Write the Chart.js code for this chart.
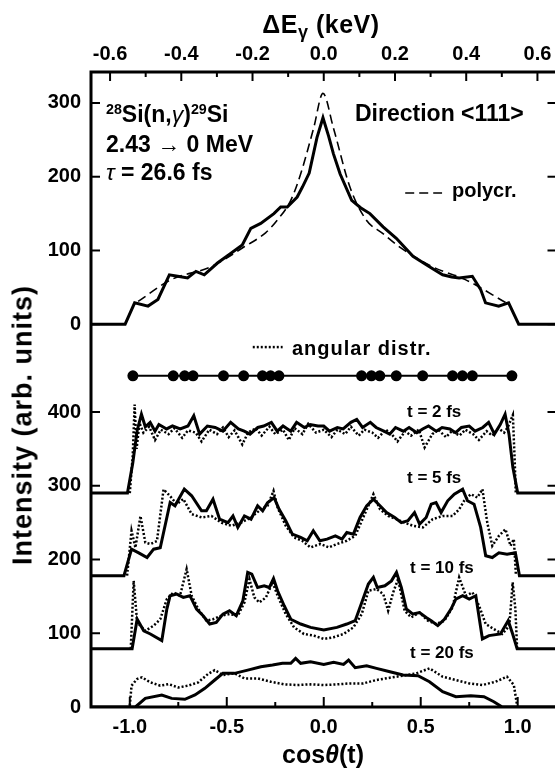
<!DOCTYPE html>
<html>
<head>
<meta charset="utf-8">
<script src="https://cdn.jsdelivr.net/npm/chart.js@4.4.1/dist/chart.umd.min.js"></script>
<style>
  html, body { margin: 0; padding: 0; background: #fff; overflow: hidden; }
  #wrap { position: relative; width: 555px; height: 770px; overflow: hidden; }
  #chart { position: absolute; left: 0; top: 0; }
  .lbl { position: absolute; font-family: "Liberation Sans", Arial, sans-serif; font-weight: bold; color: #000; white-space: nowrap; line-height: 1; }
  .sup { font-size: 0.62em; position: relative; top: -0.55em; }
  .sub { font-size: 0.72em; position: relative; top: 0.3em; }
  .c { transform: translate(-50%, -50%); }
</style>
</head>
<body>
<div id="wrap">
  <canvas id="chart" width="562" height="770"></canvas>
  <div class="lbl c" style="left:321px; top:24px; font-size:25px; letter-spacing:0.5px;">&Delta;E<span class="sub">&gamma;</span> (keV)</div>
  <div class="lbl c" style="left:323px; top:754px; font-size:25px;">cos<i>&theta;</i>(t)</div>
  <div class="lbl" style="left:23px; top:425px; font-size:27px; letter-spacing:1px; transform: translate(-50%, -50%) rotate(-90deg);">Intensity (arb. units)</div>
  <div class="lbl" style="left:106px; top:103px; font-size:23px;"><span class="sup">28</span>Si(n,<i style="font-weight:normal">&gamma;</i>)<span class="sup">29</span>Si</div>
  <div class="lbl" style="left:106px; top:133px; font-size:23px;">2.43 &rarr; 0 MeV</div>
  <div class="lbl" style="left:106px; top:161px; font-size:23px;"><i style="font-weight:normal">&tau;</i> = 26.6 fs</div>
  <div class="lbl" style="left:355px; top:102px; font-size:23px;">Direction &lt;111&gt;</div>
  <div class="lbl" style="left:452px; top:180px; font-size:20px;">polycr.</div>
  <div class="lbl" style="left:292px; top:338px; font-size:20px; letter-spacing:1px;">angular distr.</div>
  <div class="lbl" style="left:407px; top:403px; font-size:17px;">t = 2 fs</div>
  <div class="lbl" style="left:407px; top:469px; font-size:17px;">t = 5 fs</div>
  <div class="lbl" style="left:410px; top:559px; font-size:17px;">t = 10 fs</div>
  <div class="lbl" style="left:410px; top:644px; font-size:17px;">t = 20 fs</div>
</div>
<script>
// axis setup
const cosTicks = [-1.0, -0.5, 0.0, 0.5, 1.0];
const cosMinorTicks = [-0.75, -0.25, 0.25, 0.75];
const energyTicks = [-0.6, -0.4, -0.2, 0.0, 0.2, 0.4, 0.6];
const energyMinorTicks = [-0.5, -0.3, -0.1, 0.1, 0.3, 0.5];
const energyPerCos = 0.5446;           // keV per unit of cos(theta)
const topOffset = 519;                 // top panel zero on the shared intensity axis
const bottomIntensityTicks = [0, 100, 200, 300, 400];
const topIntensityTicks = [0, 100, 200, 300];

// top panel: measured line shape, direction <111>
const dirX = [-1.2, -1.024, -0.975, -0.906, -0.855, -0.796, -0.753, -0.702, -0.659, -0.616, -0.548, -0.48, -0.42, -0.376, -0.325, -0.257, -0.222, -0.188, -0.137, -0.11, -0.075, -0.035, -0.004, 0.025, 0.05, 0.084, 0.144, 0.19, 0.238, 0.306, 0.374, 0.46, 0.545, 0.613, 0.66, 0.698, 0.766, 0.809, 0.834, 0.902, 0.953, 1.005, 1.2];
const dirY = [0, 0, 29, 24.6, 33.6, 67, 65, 62.7, 71.6, 67, 83, 96, 107.5, 130, 136.7, 150, 159, 159, 172.5, 186, 205, 253, 280, 255, 231, 204, 168, 158, 150, 132, 116.5, 92, 78, 67, 64, 62.7, 65, 47, 29, 24.6, 29, 0, 0];
// top panel: polycrystal line shape
const polyX = [-0.957, -0.786, -0.581, -0.41, -0.3, -0.24, -0.17, -0.12, -0.052, -0.004, 0.05, 0.135, 0.22, 0.3, 0.39, 0.56, 0.73, 0.94];
const polyY = [31, 60.5, 78, 105, 124, 141, 168, 203, 266, 313, 266, 186, 141, 124, 105, 78, 60.5, 29];

// angular distribution row
const angularX = [-0.984, -0.776, -0.717, -0.674, -0.517, -0.413, -0.316, -0.274, -0.231, 0.195, 0.246, 0.289, 0.374, 0.51, 0.664, 0.715, 0.766, 0.97];
const angularLevel = 449;

// bottom panel, t = 2 fs
const t2SolidX = [-1.2, -1.012, -0.985, -0.962, -0.94, -0.92, -0.895, -0.87, -0.85, -0.81, -0.78, -0.74, -0.7, -0.67, -0.64, -0.6, -0.56, -0.52, -0.48, -0.44, -0.41, -0.38, -0.34, -0.31, -0.27, -0.24, -0.21, -0.17, -0.14, -0.1, -0.07, -0.03, 0.0, 0.03, 0.07, 0.1, 0.14, 0.17, 0.2, 0.24, 0.27, 0.31, 0.34, 0.37, 0.41, 0.44, 0.48, 0.51, 0.54, 0.58, 0.61, 0.65, 0.68, 0.71, 0.75, 0.78, 0.82, 0.85, 0.88, 0.91, 0.935, 0.955, 0.975, 1.0, 1.2];
const t2SolidY = [290, 290, 330, 375, 397, 380, 386, 374, 383, 377, 381, 377, 381, 395, 370, 381, 379, 374, 386, 377, 374, 370, 379, 381, 386, 374, 381, 374, 386, 379, 383, 381, 381, 374, 379, 377, 386, 390, 379, 386, 379, 374, 370, 379, 374, 379, 372, 377, 381, 374, 379, 377, 372, 379, 381, 374, 379, 386, 370, 383, 397, 370, 325, 290, 290];
const t2DotX = [-1.0, -0.985, -0.975, -0.965, -0.95, -0.93, -0.9, -0.87, -0.84, -0.8, -0.77, -0.73, -0.7, -0.66, -0.63, -0.59, -0.55, -0.52, -0.49, -0.46, -0.42, -0.39, -0.35, -0.32, -0.28, -0.25, -0.21, -0.18, -0.15, -0.11, -0.08, -0.04, 0.0, 0.04, 0.07, 0.11, 0.14, 0.18, 0.21, 0.25, 0.28, 0.32, 0.35, 0.38, 0.42, 0.45, 0.49, 0.52, 0.56, 0.59, 0.63, 0.66, 0.7, 0.73, 0.77, 0.8, 0.84, 0.87, 0.9, 0.93, 0.95, 0.975, 0.985, 0.99];
const t2DotY = [290, 340, 410, 350, 385, 372, 380, 362, 376, 370, 378, 365, 375, 372, 360, 376, 370, 379, 366, 375, 356, 372, 378, 368, 380, 370, 376, 362, 378, 370, 384, 372, 376, 366, 376, 370, 380, 368, 376, 372, 365, 376, 370, 360, 374, 368, 376, 352, 370, 376, 366, 374, 368, 376, 370, 362, 374, 368, 378, 372, 380, 396, 330, 290];

// bottom panel, t = 5 fs
const t5SolidX = [-1.2, -1.03, -0.991, -0.954, -0.911, -0.877, -0.843, -0.792, -0.767, -0.719, -0.681, -0.63, -0.605, -0.571, -0.537, -0.494, -0.468, -0.443, -0.409, -0.375, -0.341, -0.315, -0.29, -0.256, -0.23, -0.196, -0.162, -0.119, -0.085, -0.054, -0.02, 0.017, 0.06, 0.094, 0.119, 0.153, 0.187, 0.221, 0.256, 0.29, 0.324, 0.366, 0.4, 0.434, 0.468, 0.494, 0.528, 0.554, 0.579, 0.605, 0.639, 0.673, 0.716, 0.741, 0.775, 0.809, 0.835, 0.869, 0.903, 0.945, 0.988, 1.009, 1.2];
const t5SolidY = [178, 178, 214, 209, 202.7, 214, 216, 277.3, 272.8, 295.4, 286.4, 266, 266, 281.8, 254.7, 250, 259, 243.5, 259, 254.7, 272.8, 266, 277, 284, 268, 252.5, 234.4, 230, 225.4, 239, 225.4, 227.6, 232, 227.6, 236.6, 234.4, 257, 272.8, 281.8, 272.8, 263.7, 257, 250, 252.5, 263.7, 248, 257, 275, 277.3, 263.7, 279.6, 288.6, 295.4, 279.6, 275, 243.5, 205, 202.7, 209, 207, 209, 178, 178];
const t5DotX = [-1.014, -0.991, -0.971, -0.945, -0.92, -0.894, -0.86, -0.826, -0.792, -0.758, -0.724, -0.681, -0.63, -0.579, -0.528, -0.477, -0.426, -0.375, -0.324, -0.29, -0.259, -0.238, -0.196, -0.153, -0.111, -0.068, -0.017, 0.026, 0.068, 0.119, 0.162, 0.196, 0.23, 0.256, 0.29, 0.332, 0.375, 0.417, 0.46, 0.511, 0.562, 0.613, 0.664, 0.698, 0.724, 0.758, 0.792, 0.818, 0.843, 0.869, 0.903, 0.937, 0.963, 0.98, 0.991];
const t5DotY = [178, 239, 216, 259, 223, 221, 225, 295, 286, 275, 282, 261.5, 257, 259, 250, 245.7, 250, 257, 268, 272.8, 293, 270.5, 245.7, 230, 225.4, 216.4, 221, 216.4, 221, 225.4, 232, 252.5, 272.8, 288.6, 268, 259, 254.7, 250, 245.7, 243.5, 254.7, 259, 259, 268, 279.6, 288.6, 284, 295.4, 250, 218.6, 232, 241, 218.6, 227.6, 178];

// bottom panel, t = 10 fs
const t10SolidX = [-1.2, -0.988, -0.962, -0.928, -0.894, -0.835, -0.809, -0.792, -0.758, -0.724, -0.69, -0.656, -0.622, -0.588, -0.554, -0.52, -0.486, -0.451, -0.417, -0.392, -0.371, -0.341, -0.307, -0.281, -0.259, -0.238, -0.204, -0.17, -0.119, -0.068, 0.0, 0.068, 0.119, 0.162, 0.196, 0.23, 0.256, 0.276, 0.315, 0.349, 0.375, 0.4, 0.426, 0.46, 0.494, 0.528, 0.554, 0.588, 0.622, 0.656, 0.681, 0.716, 0.75, 0.784, 0.818, 0.852, 0.911, 0.951, 0.974, 0.997, 1.2];
const t10SolidY = [79, 79, 119, 103.3, 99, 90, 132.8, 150.9, 153, 148.6, 150.9, 132.8, 123.8, 112.5, 114.7, 126, 130.5, 123.8, 144, 182.5, 180.2, 162, 164.4, 162, 174.3, 157.6, 137.3, 119, 112.5, 108, 104.3, 108, 112.5, 117, 141.7, 166.7, 175.7, 162, 164.4, 171, 182.5, 162, 132.8, 126, 128, 121.5, 117, 110.3, 119, 132.8, 146.3, 150.9, 146.3, 150.9, 92.3, 96.8, 99, 117, 99, 79, 79];
const t10DotX = [-0.995, -0.98, -0.962, -0.92, -0.877, -0.843, -0.809, -0.775, -0.741, -0.707, -0.681, -0.647, -0.605, -0.571, -0.528, -0.486, -0.443, -0.409, -0.383, -0.358, -0.332, -0.298, -0.264, -0.238, -0.196, -0.153, -0.102, -0.051, 0.0, 0.051, 0.102, 0.153, 0.196, 0.23, 0.272, 0.307, 0.332, 0.358, 0.383, 0.417, 0.451, 0.494, 0.537, 0.579, 0.622, 0.664, 0.698, 0.733, 0.767, 0.801, 0.835, 0.877, 0.92, 0.957, 0.974, 0.988, 0.997];
const t10DotY = [79, 171, 114.7, 103.3, 110.3, 119, 146.3, 155.4, 150.9, 187, 150.9, 132.8, 117, 119, 123.8, 126, 123.8, 141.7, 173.4, 148.6, 141.7, 148.6, 169, 150.9, 126, 108, 99, 96.8, 92.3, 94.6, 99, 108, 126, 157.6, 160, 153, 130.5, 155.4, 173.4, 130.5, 121.5, 128, 117, 112.5, 117, 135, 175.7, 150.9, 155.4, 137.3, 112.5, 105.7, 99, 110.3, 169, 132.8, 79];

// bottom panel, t = 20 fs
const t20SolidX = [-1.2, -0.971, -0.92, -0.835, -0.784, -0.716, -0.664, -0.613, -0.562, -0.52, -0.46, -0.392, -0.324, -0.264, -0.213, -0.17, -0.145, -0.119, -0.068, 0.0, 0.051, 0.102, 0.128, 0.162, 0.221, 0.272, 0.341, 0.409, 0.486, 0.545, 0.613, 0.681, 0.758, 0.826, 0.877, 0.92, 1.2];
const t20SolidY = [0, 0, 11.7, 16.3, 11.7, 10.4, 16.3, 25.3, 36.6, 45.6, 45.6, 50, 54.6, 56.9, 59.2, 59.2, 65.9, 59.2, 61.4, 57.8, 60.5, 57.8, 63.7, 53.3, 56, 52.4, 47.9, 43.4, 42.5, 34.3, 20.8, 14, 15.4, 14, 7.2, 0, 0];
const t20DotX = [-1.0, -0.991, -0.962, -0.937, -0.894, -0.843, -0.8, -0.75, -0.698, -0.647, -0.596, -0.562, -0.52, -0.46, -0.409, -0.341, -0.273, -0.204, -0.136, -0.068, 0.0, 0.068, 0.136, 0.204, 0.272, 0.341, 0.409, 0.477, 0.545, 0.613, 0.681, 0.75, 0.818, 0.886, 0.945, 0.98, 0.997];
const t20DotY = [2, 29, 38, 40.2, 33.4, 29, 31, 26.5, 29, 33.4, 45, 50, 43.4, 45.6, 38.8, 38.8, 34.3, 30.7, 29.8, 30.7, 29.8, 30.7, 32, 32, 36.6, 39.7, 42.5, 45.6, 52.4, 41.1, 36.6, 32, 29.8, 34.3, 41.1, 29.8, 2];

// legend key samples, in data units
const polyKeyX = [0.42, 0.61];
const polyKeyLevel = topOffset + 178;
const angularKeyX = [-0.366, -0.212];
const angularKeyLevel = 488;

const yMax = 861;
const tickFont = { family: "Liberation Sans", weight: "bold", size: 20 };

function pts(xs, ys, offset = 0) {
  return xs.map((x, i) => ({ x: x, y: ys[i] + offset }));
}

function solid(xs, ys, offset, width) {
  return { data: pts(xs, ys, offset), borderColor: "#000", borderWidth: width || 3, pointRadius: 0, tension: 0, fill: false };
}
function dotted(xs, ys, offset) {
  return { data: pts(xs, ys, offset), borderColor: "#000", borderWidth: 2.5, borderDash: [2, 2], pointRadius: 0, tension: 0, fill: false };
}

const datasets = [
  solid(dirX, dirY, topOffset, 3),
  { data: pts(polyX, polyY, topOffset), borderColor: "#000", borderWidth: 1.6, borderDash: [9, 5], pointRadius: 0, cubicInterpolationMode: "monotone", fill: false },
  { data: angularX.map(x => ({ x: x, y: angularLevel })), borderColor: "#000", borderWidth: 2, backgroundColor: "#000", pointRadius: 5.5, pointBorderWidth: 0, tension: 0 },
  dotted(t2DotX, t2DotY, 0), solid(t2SolidX, t2SolidY, 0),
  dotted(t5DotX, t5DotY, 0), solid(t5SolidX, t5SolidY, 0),
  dotted(t10DotX, t10DotY, 0), solid(t10SolidX, t10SolidY, 0),
  dotted(t20DotX, t20DotY, 0), solid(t20SolidX, t20SolidY, 0),
];

// inward ticks, frame and key samples
const framePlugin = {
  id: "framePlugin",
  afterDatasetsDraw(chart) {
    const { ctx, chartArea: a, scales } = chart;
    const line = (x1, y1, x2, y2) => { ctx.beginPath(); ctx.moveTo(x1, y1); ctx.lineTo(x2, y2); ctx.stroke(); };
    ctx.save();
    ctx.strokeStyle = "#000";
    ctx.lineWidth = 2;
    cosTicks.forEach(v => { const p = scales.x.getPixelForValue(v); line(p, a.bottom, p, a.bottom - 10); });
    cosMinorTicks.forEach(v => { const p = scales.x.getPixelForValue(v); line(p, a.bottom, p, a.bottom - 5); });
    energyTicks.forEach(v => { const p = scales.xTop.getPixelForValue(v); line(p, a.top, p, a.top + 9); });
    energyMinorTicks.forEach(v => { const p = scales.xTop.getPixelForValue(v); line(p, a.top, p, a.top + 5); });
    scales.y.ticks.forEach(t => {
      const p = scales.y.getPixelForValue(t.value);
      line(a.left, p, a.left + 9, p);
      line(a.right, p, a.right - 9, p);
    });
    ctx.lineWidth = 3;
    ctx.strokeRect(a.left, a.top, a.right - a.left, a.bottom - a.top);

    // key samples
    ctx.lineWidth = 1.6;
    ctx.setLineDash([9, 5]);
    let y = scales.y.getPixelForValue(polyKeyLevel);
    line(scales.x.getPixelForValue(polyKeyX[0]), y, scales.x.getPixelForValue(polyKeyX[1]), y);
    ctx.lineWidth = 2.5;
    ctx.setLineDash([2, 2]);
    y = scales.y.getPixelForValue(angularKeyLevel);
    line(scales.x.getPixelForValue(angularKeyX[0]), y, scales.x.getPixelForValue(angularKeyX[1]), y);
    ctx.restore();
  }
};

new Chart(document.getElementById("chart"), {
  type: "line",
  data: { datasets: datasets },
  options: {
    responsive: false,
    animation: false,
    devicePixelRatio: 1,
    layout: { padding: { left: 0, top: 0, right: 4, bottom: 0 } },
    plugins: { legend: { display: false }, tooltip: { enabled: false } },
    scales: {
      x: {
        type: "linear", position: "bottom", min: -1.2, max: 1.2,
        grid: { display: false, drawTicks: false }, border: { display: false },
        afterBuildTicks: s => { s.ticks = cosTicks.map(v => ({ value: v })); },
        afterFit: s => { s.height = 63; },
        ticks: { autoSkip: false, maxRotation: 0, padding: 8, color: "#000", font: tickFont, callback: v => v.toFixed(1) }
      },
      xTop: {
        type: "linear", position: "top", min: -1.2 * energyPerCos, max: 1.2 * energyPerCos,
        grid: { display: false, drawTicks: false }, border: { display: false },
        afterBuildTicks: s => { s.ticks = energyTicks.map(v => ({ value: v })); },
        afterFit: s => { s.height = 72; },
        ticks: { autoSkip: false, maxRotation: 0, padding: 6, color: "#000", font: tickFont, callback: v => v.toFixed(1) }
      },
      y: {
        type: "linear", position: "left", min: 0, max: yMax,
        grid: { display: false, drawTicks: false }, border: { display: false },
        afterBuildTicks: s => {
          s.ticks = bottomIntensityTicks.map(v => ({ value: v }))
            .concat(topIntensityTicks.map(v => ({ value: v + topOffset })));
        },
        afterFit: s => { s.width = 91; },
        ticks: { autoSkip: false, padding: 10, color: "#000", font: tickFont, callback: v => String(v >= topOffset ? v - topOffset : v) }
      }
    }
  },
  plugins: [framePlugin]
});
</script>
</body>
</html>
